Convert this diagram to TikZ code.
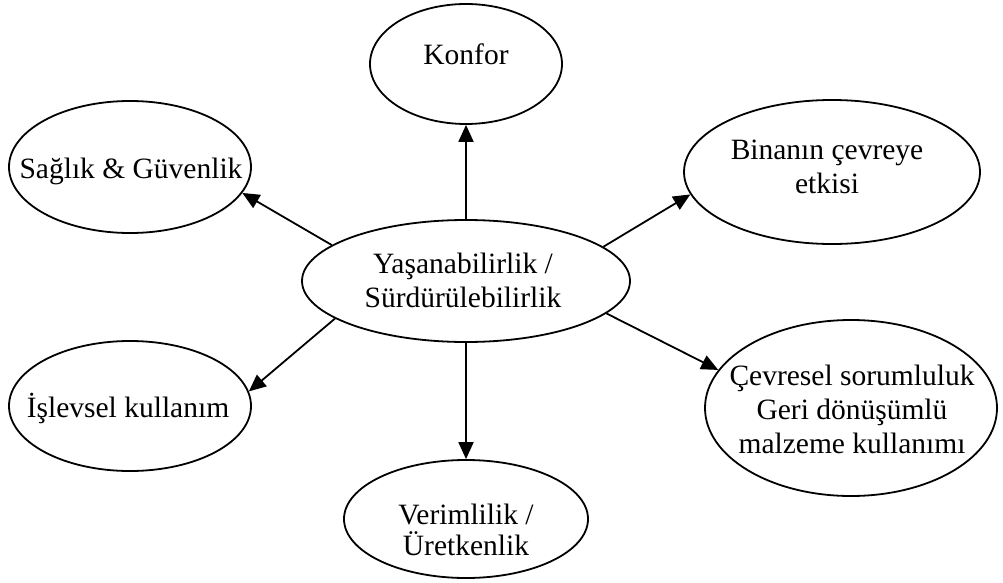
\documentclass[tikz,border=0pt]{standalone}
\usepackage{fontspec}
\setmainfont{Liberation Serif}
\usetikzlibrary{shapes.geometric,arrows.meta}
\begin{document}
\begin{tikzpicture}[x=1pt,y=-1pt,
  bubble/.style={draw, ellipse, line width=1.8pt, inner sep=0pt},
  lbl/.style={font=\fontsize{29.5}{34}\selectfont, align=center, inner sep=0pt, anchor=base},
  link/.style={line width=1.8pt, -{Triangle[length=17pt,width=15pt]}}]
\useasboundingbox (0,0) rectangle (1003,583);

% outline ellipses
\node[bubble, minimum width=192pt, minimum height=120pt] (konfor) at (466,64) {};
\node[bubble, minimum width=242pt, minimum height=132pt] (saglik) at (130,167) {};
\node[bubble, minimum width=296pt, minimum height=144pt] (bina) at (832,172) {};
\node[bubble, minimum width=328pt, minimum height=122pt] (merkez) at (466,281) {};
\node[bubble, minimum width=242pt, minimum height=130pt] (islev) at (130,406) {};
\node[bubble, minimum width=292pt, minimum height=176pt] (cevre) at (851,408) {};
\node[bubble, minimum width=244pt, minimum height=118pt] (verim) at (466,519) {};

% texts (base anchor sits on the last line)
\node[lbl] (konfor-t) at (466,65) {Konfor};
\node[lbl] (saglik-t) at (131,178) {Sağlık \& Güvenlik};
\node[lbl] (bina-t) at (827,193) {Binanın çevreye\\etkisi};
\node[lbl] (merkez-t) at (463,307) {Yaşanabilirlik /\\Sürdürülebilirlik};
\node[lbl] (islev-t) at (128,417) {İşlevsel kullanım};
\node[lbl] (cevre-t) at (852,453) {Çevresel sorumluluk\\Geri dönüşümlü\\malzeme kullanımı};
\node[lbl] (verim-t) at (466,555) {Verimlilik /\\[-3pt]Üretkenlik};

% connectors
\draw[link] (merkez.north) -- (konfor.south);
\draw[link] (merkez.165.5) -- (saglik.-13.8);
\draw[link] (merkez.14.4) -- (bina.189.5);
\draw[link] (merkez.196.1) -- (islev.7.9);
\draw[link] (merkez.-13.7) -- (cevre.164.9);
\draw[link] (merkez.south) -- (verim.north);
\end{tikzpicture}
\end{document}
